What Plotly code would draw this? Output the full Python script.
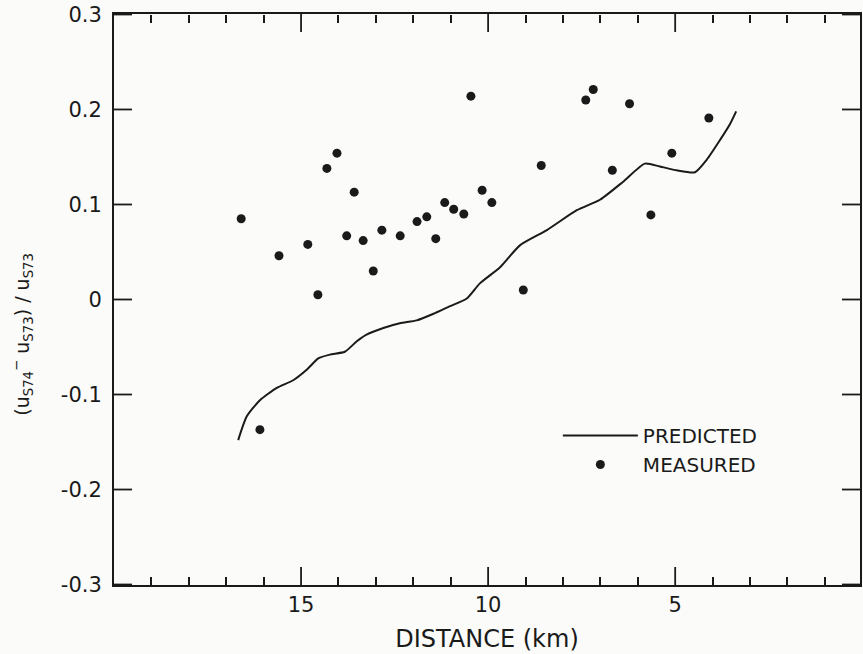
import plotly.graph_objects as go

# Measured points: distance (km) and (u_S74 - u_S73)/u_S73
meas_dist = [16.60, 15.59, 14.82, 14.55, 14.31, 14.04, 13.78, 13.58, 13.34, 13.07,
             12.84, 12.35, 11.90, 11.64, 11.40, 11.16, 10.92, 10.65, 10.46, 10.16,
             9.90, 9.06, 8.58, 7.39, 7.19, 6.68, 6.22, 5.65, 5.09, 4.10, 16.10]
meas_val = [0.085, 0.046, 0.058, 0.005, 0.138, 0.154, 0.067, 0.113, 0.062, 0.030,
            0.073, 0.067, 0.082, 0.087, 0.064, 0.102, 0.095, 0.090, 0.214, 0.115,
            0.102, 0.010, 0.141, 0.210, 0.221, 0.136, 0.206, 0.089, 0.154, 0.191, -0.137]

# Predicted curve
pred_dist = [16.68, 16.45, 16.10, 15.65, 15.21, 14.85, 14.54, 14.23, 13.83, 13.51,
             13.25, 12.80, 12.36, 11.91, 11.46, 11.02, 10.57, 10.22, 9.68, 9.15,
             8.43, 7.63, 7.01, 6.39, 5.81, 5.41, 4.96, 4.47, 4.16, 3.80, 3.53, 3.37]
pred_val = [-0.148, -0.123, -0.106, -0.093, -0.085, -0.074, -0.062, -0.058, -0.055, -0.044,
            -0.037, -0.030, -0.025, -0.022, -0.015, -0.007, 0.001, 0.017, 0.034, 0.057,
            0.073, 0.094, 0.105, 0.124, 0.143, 0.140, 0.136, 0.134, 0.147, 0.168, 0.185, 0.198]

x_ticks = [15, 10, 5]
x_ticktext = ["15", "10", "5"]
x_minor_ticks = [19, 18, 17, 16, 14, 13, 12, 11, 9, 8, 7, 6, 4, 3, 2, 1]
y_ticks = [-0.3, -0.2, -0.1, 0, 0.1, 0.2, 0.3]
y_ticktext = ["-0.3", "-0.2", "-0.1", "0", "0.1", "0.2", "0.3"]

X_RANGE = [20, 0.06]
Y_RANGE = [-0.3005, 0.3005]

W, H = 863, 654
ML, MR, MT, MB = 114, 3, 14, 69
PLOT_W = W - ML - MR
PLOT_H = H - MT - MB

FONT = "DejaVu Sans"
INK = "#1a1a1a"
BG = "#fbfbf9"
MAJOR_LEN = 18
MINOR_LEN = 8
TW = 1.8

fig = go.Figure()
fig.add_trace(go.Scatter(
    x=pred_dist, y=pred_val, mode="lines", name="PREDICTED",
    line=dict(color=INK, width=2, shape="spline", smoothing=0.6),
))
fig.add_trace(go.Scatter(
    x=meas_dist, y=meas_val, mode="markers", name="MEASURED",
    marker=dict(color=INK, size=9, symbol="circle"),
))

tickfont = dict(family=FONT, size=21, color=INK)


def tick_xaxis(vals, length, side, pos):
    # tick-only overlay axis; outside ticks placed on the opposite edge point into the plot
    return dict(range=X_RANGE, overlaying="x", matches="x", anchor="free", position=pos,
                side=side, showgrid=False, zeroline=False, showline=False,
                ticks="outside", ticklen=length, tickwidth=TW, tickcolor=INK,
                tickvals=vals, showticklabels=False, automargin=False)


fig.update_layout(
    width=W, height=H,
    margin=dict(l=ML, r=MR, t=MT, b=MB),
    paper_bgcolor=BG, plot_bgcolor=BG,
    font=dict(family=FONT, color=INK, size=20),
    showlegend=True,
    legend=dict(
        x=0.595, y=0.296, xanchor="left", yanchor="top",
        bgcolor="rgba(0,0,0,0)", borderwidth=0,
        font=dict(family=FONT, size=20, color=INK),
        itemwidth=75, tracegroupgap=0,
    ),
    xaxis=dict(
        range=X_RANGE, showgrid=False, zeroline=False,
        showline=True, linecolor=INK, linewidth=2, mirror=True,
        ticks="", tickvals=x_ticks, ticktext=x_ticktext, tickfont=tickfont,
        automargin=False,
        title=dict(text="DISTANCE (km)", font=dict(family=FONT, size=24, color=INK), standoff=14),
    ),
    yaxis=dict(
        range=Y_RANGE, showgrid=False, zeroline=False,
        showline=True, linecolor=INK, linewidth=2, mirror=True,
        ticks="", tickvals=y_ticks, ticktext=y_ticktext, tickfont=tickfont,
        automargin=False, ticklabelstandoff=6,
    ),
    xaxis3=tick_xaxis(x_minor_ticks, MINOR_LEN, "top", 0),
    xaxis5=tick_xaxis(x_minor_ticks, MINOR_LEN, "bottom", 1),
)

# invisible helper traces so the minor-tick axes are drawn
for xa in ["x3", "x5"]:
    fig.add_trace(go.Scatter(x=[None], y=[None], xaxis=xa, yaxis="y",
                             showlegend=False, hoverinfo="skip"))

# major ticks (inward) on all four sides: positioned by axis values,
# length given as a fraction of the plot area
tick_line = dict(color=INK, width=TW)
fy = MAJOR_LEN / PLOT_H
fx = MAJOR_LEN / PLOT_W
for v in x_ticks:
    fig.add_shape(type="line", xref="x", x0=v, x1=v, yref="paper", y0=0, y1=fy,
                  line=tick_line, layer="above")
    fig.add_shape(type="line", xref="x", x0=v, x1=v, yref="paper", y0=1 - fy, y1=1,
                  line=tick_line, layer="above")
for v in y_ticks:
    fig.add_shape(type="line", yref="y", y0=v, y1=v, xref="paper", x0=0, x1=fx,
                  line=tick_line, layer="above")
    fig.add_shape(type="line", yref="y", y0=v, y1=v, xref="paper", x0=1 - fx, x1=1,
                  line=tick_line, layer="above")

fig.add_annotation(
    xref="paper", yref="paper", x=-0.122, y=0.44,
    text="(u<sub>S74</sub><sup>\u2212</sup> u<sub>S73</sub>) / u<sub>S73</sub>",
    textangle=-90, showarrow=False,
    font=dict(family=FONT, size=19, color=INK),
    xanchor="center", yanchor="middle",
)

fig.write_html("out.html")
